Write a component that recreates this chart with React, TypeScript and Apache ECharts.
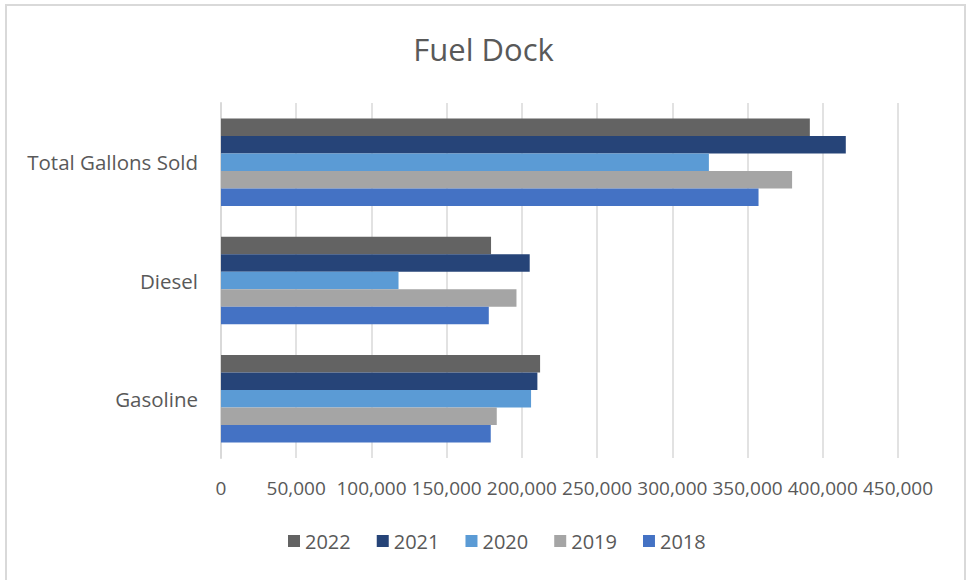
import React, { useEffect, useRef } from "react";
import * as echarts from "echarts";

const categories = ["Gasoline", "Diesel", "Total Gallons Sold"];
const years = ["2022", "2021", "2020", "2019", "2018"];
const values2018 = [179300, 178000, 357300];
const values2019 = [183300, 196400, 379600];
const values2020 = [206100, 118000, 324300];
const values2021 = [210300, 205200, 415300];
const values2022 = [212100, 179500, 391400];
const seriesValues = [values2022, values2021, values2020, values2019, values2018];
const colors = ["#636363", "#264478", "#5B9BD5", "#A5A5A5", "#4472C4"];

const FONT = "'Open Sans', 'Noto Sans', sans-serif";
const TEXT = "#595959";

export default function App() {
  const ref = useRef<HTMLDivElement>(null);
  useEffect(() => {
    if (!ref.current) return;
    const chart = echarts.init(ref.current, null, { renderer: "svg" });
    chart.setOption({
      animation: false,
      backgroundColor: "#ffffff",
      title: {
        text: "Fuel Dock",
        left: "center",
        top: 28,
        textStyle: { fontFamily: FONT, fontSize: 31, fontWeight: "normal", color: TEXT },
      },
      legend: {
        data: years,
        top: 526,
        left: 283,
        itemWidth: 12,
        itemHeight: 12,
        itemGap: 26,
        icon: "rect",
        textStyle: { fontFamily: FONT, fontSize: 20, color: TEXT },
      },
      grid: { left: 221, right: 69, top: 103, bottom: 122, containLabel: false },
      xAxis: {
        type: "value",
        min: 0,
        max: 450000,
        interval: 50000,
        axisLine: { show: false },
        axisTick: { show: false },
        splitLine: { lineStyle: { color: "#D9D9D9", width: 1.5 } },
        axisLabel: {
          fontFamily: FONT,
          fontSize: 19,
          color: TEXT,
          margin: 20,
          formatter: (v: number) => v.toLocaleString("en-US"),
        },
      },
      yAxis: {
        type: "category",
        data: categories,
        axisLine: { show: true, lineStyle: { color: "#D9D9D9", width: 2 } },
        axisTick: { show: false },
        axisLabel: { fontFamily: FONT, fontSize: 20.5, color: TEXT, margin: 23 },
      },
      series: years.map((y, i) => ({
        name: y,
        type: "bar",
        data: seriesValues[i],
        barGap: "0%",
        barCategoryGap: "26%",
        itemStyle: { color: colors[i] },
      })),
      graphic: [
        {
          type: "rect",
          shape: { x: 6, y: 5, width: 959, height: 590 },
          style: { fill: "none", stroke: "#D9D9D9", lineWidth: 2 },
          silent: true,
        },
      ],
    });
    return () => chart.dispose();
  }, []);
  return (
    <div
      ref={ref}
      style={{ position: "fixed", left: 0, top: 0, width: 967, height: 580 }}
    />
  );
}
